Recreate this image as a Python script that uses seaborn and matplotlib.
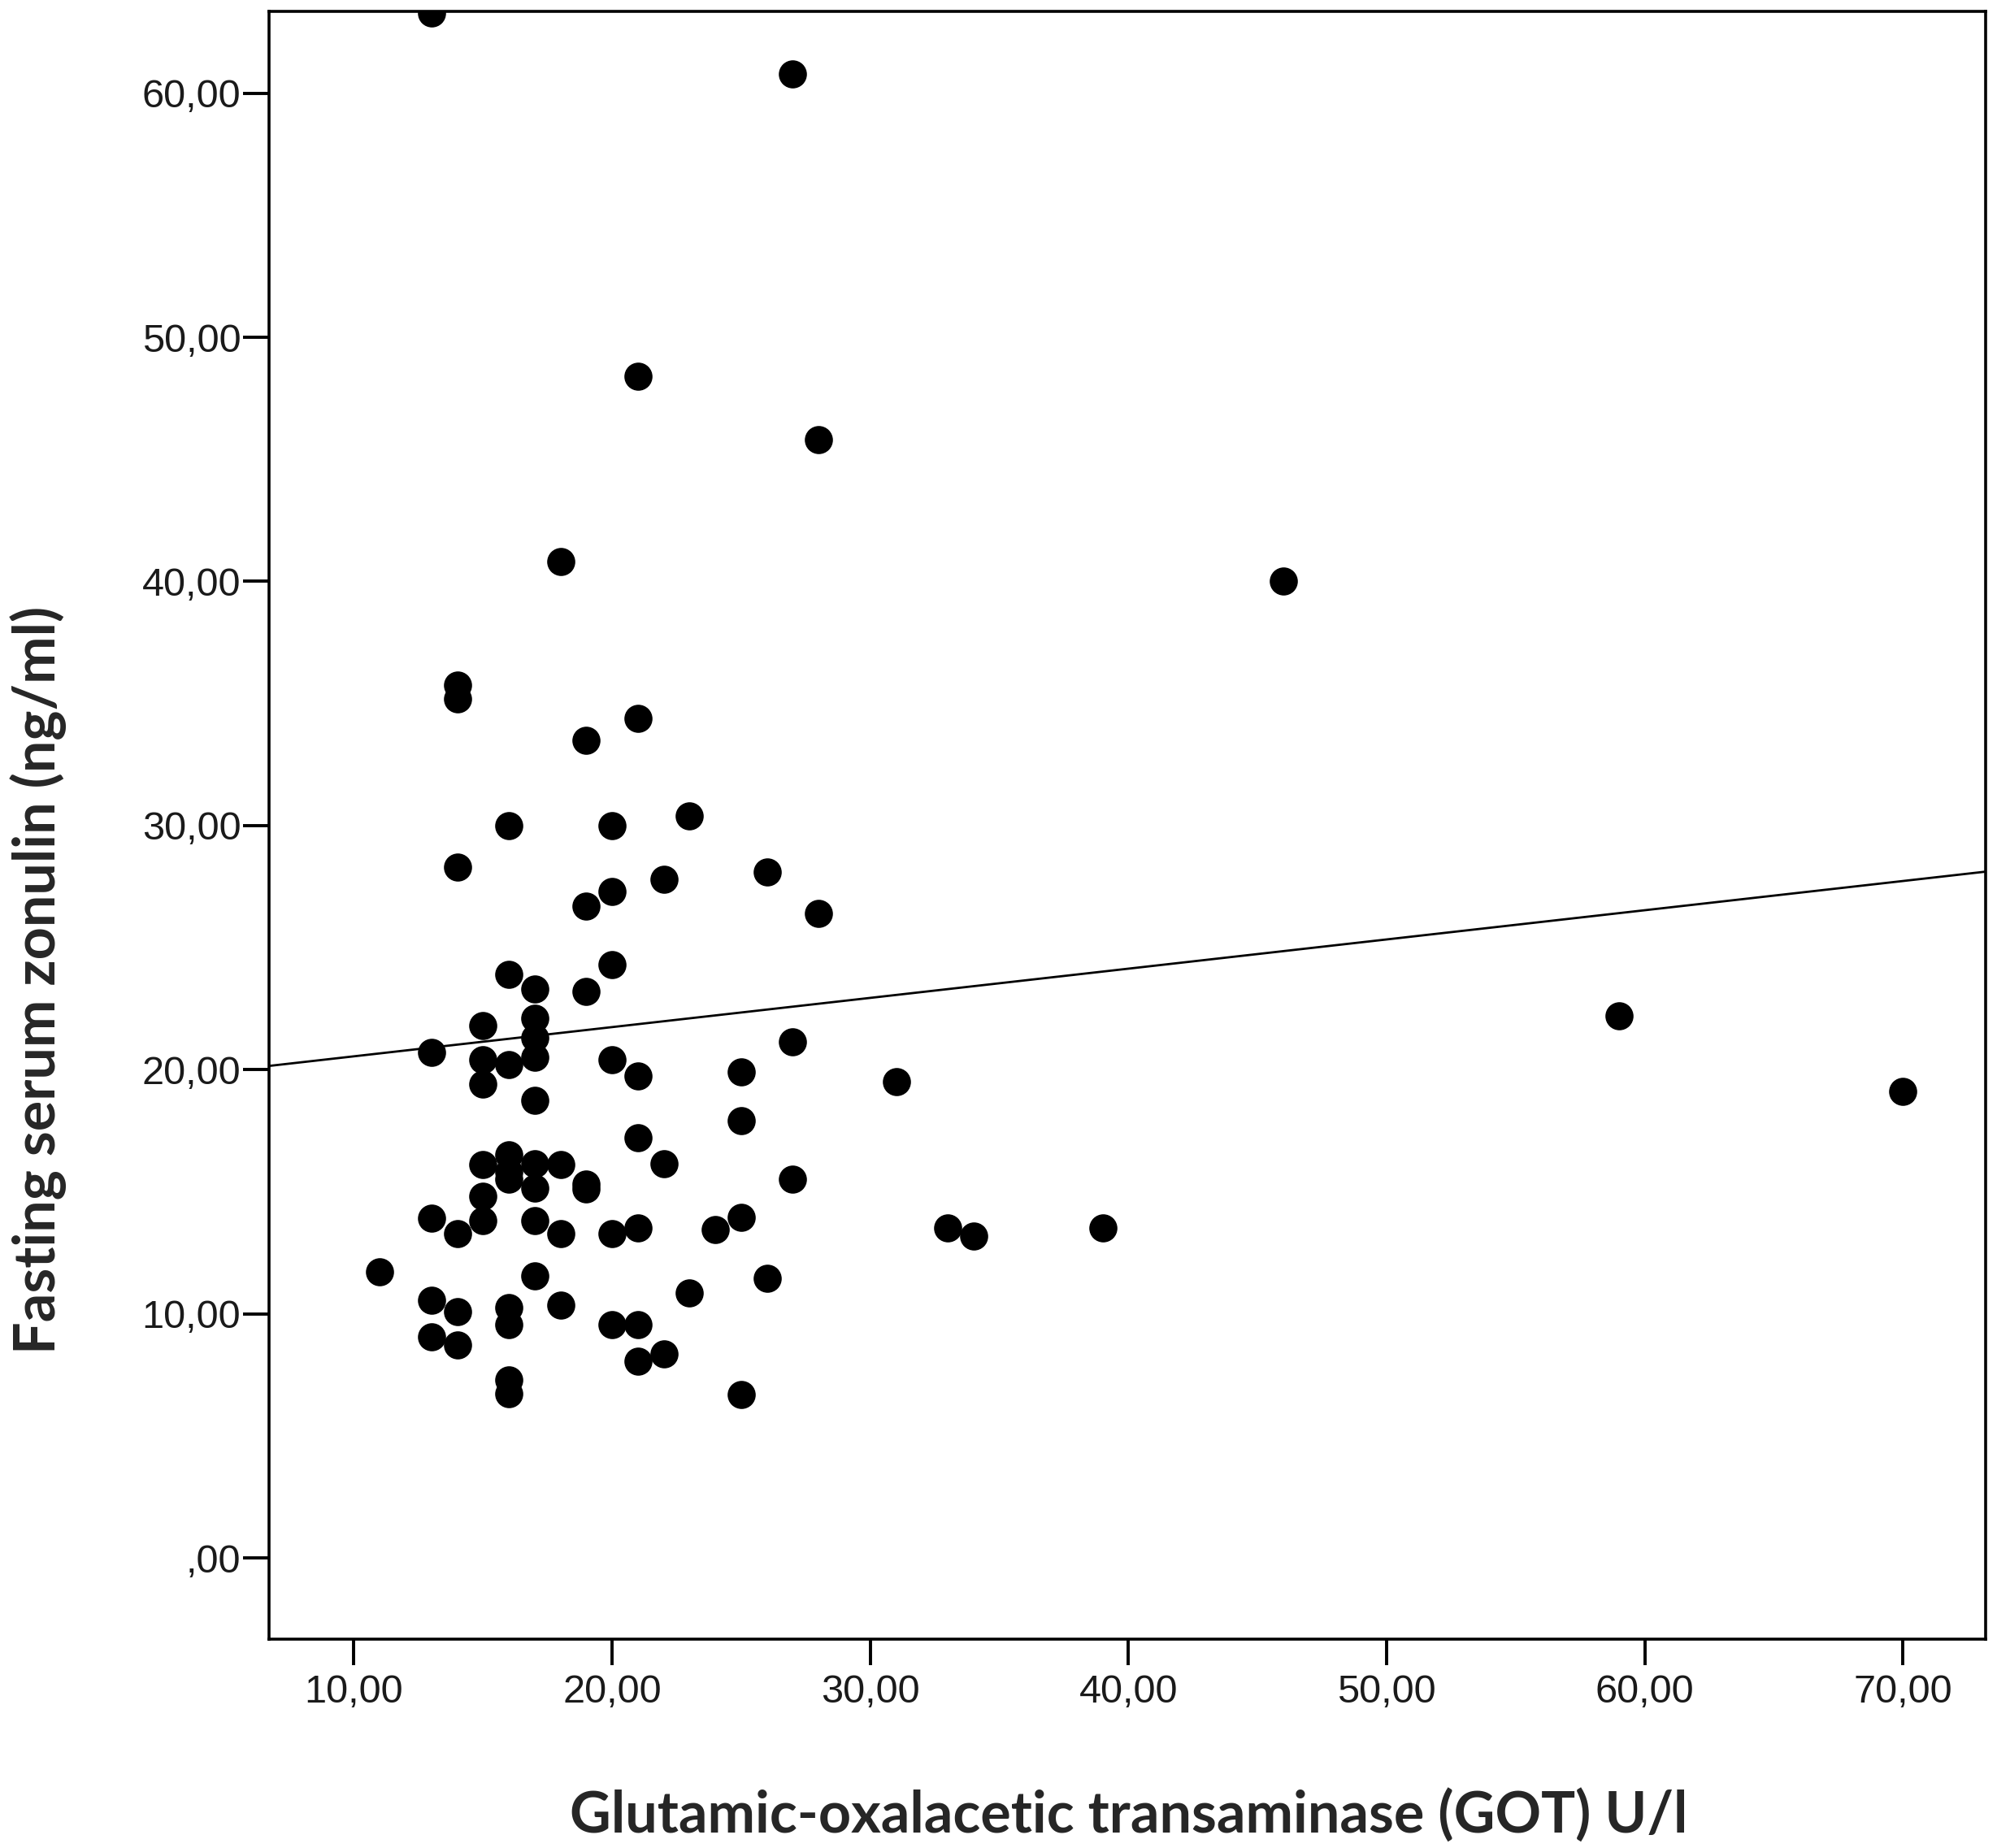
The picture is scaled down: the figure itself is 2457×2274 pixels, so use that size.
import numpy as np
import pandas as pd
import matplotlib
matplotlib.use("Agg")
import matplotlib.pyplot as plt
import seaborn as sns

# GOT (U/l) and fasting serum zonulin (ng/ml)
got = [13, 13, 13, 13, 13,
       27, 27, 27,
       21, 21, 21, 21, 21, 21, 21,
       28, 28,
       18, 18, 18, 18,
       46,
       14, 14, 14, 14, 14, 14,
       19, 19, 19, 19, 19,
       23, 23,
       16, 16, 16, 16, 16, 16, 16, 16, 16, 16,
       20, 20, 20, 20, 20, 20,
       26, 26,
       22, 22, 22,
       17, 17, 17, 17, 17, 17, 17, 17, 17,
       59,
       15, 15, 15, 15, 15, 15,
       25, 25, 25, 25,
       31, 70, 39, 33, 24, 34, 11]
zonulin = [63.3, 20.7, 13.9, 10.56, 9.06,
           60.8, 21.15, 15.5,
           48.4, 34.4, 19.75, 17.2, 13.5, 9.57, 8.07,
           45.8, 26.4,
           40.8, 16.1, 13.3, 10.34,
           40.0,
           35.74, 35.2, 28.3, 13.3, 10.1, 8.73,
           33.5, 26.7, 23.2, 15.3, 15.1,
           30.4, 10.84,
           30.0, 23.9, 20.2, 16.5, 15.8, 15.5, 10.24, 9.57, 7.29, 6.74,
           30.0, 27.3, 24.3, 20.4, 13.3, 9.57,
           28.1, 11.45,
           27.8, 16.15, 8.34,
           23.3, 22.1, 21.3, 20.5, 18.75, 16.15, 15.16, 13.8, 11.56,
           22.2,
           21.8, 20.4, 19.4, 16.1, 14.8, 13.8,
           19.9, 17.9, 13.95, 6.68,
           19.5, 19.1, 13.5, 13.5, 13.45, 13.2, 11.73]

fit_intercept = 19.35
fit_slope = 0.1197

x_ticks = [10, 20, 30, 40, 50, 60, 70]
x_tick_labels = ["10,00", "20,00", "30,00", "40,00", "50,00", "60,00", "70,00"]
y_ticks = [0, 10, 20, 30, 40, 50, 60]
y_tick_labels = [",00", "10,00", "20,00", "30,00", "40,00", "50,00", "60,00"]

df = pd.DataFrame({"got": got, "zonulin": zonulin})

sns.set_style("ticks")
plt.rcParams["font.family"] = ["Liberation Sans", "DejaVu Sans"]

fig = plt.figure(figsize=(24.57, 22.74), dpi=100)
ax = fig.add_axes([0.1347, 0.1130, 0.9943 - 0.1347, 0.9938 - 0.1130])

sns.scatterplot(data=df, x="got", y="zonulin", ax=ax, s=620, color="black",
                linewidth=0, alpha=1)

# fit line spans the whole plot area, like the SPSS output
ax.axline((0, fit_intercept), slope=fit_slope, color="black", linewidth=2.0)

ax.set_xlim(6.71, 73.2)
ax.set_ylim(-3.33, 63.35)

ax.set_xticks(x_ticks)
ax.set_xticklabels(x_tick_labels)
ax.set_yticks(y_ticks)
ax.set_yticklabels(y_tick_labels)

ax.tick_params(axis="both", direction="out", length=23, width=2.8, color="black",
               labelsize=35, labelcolor="#1a1a1a")
ax.tick_params(axis="x", pad=8)
ax.tick_params(axis="y", pad=2)

for sp in ax.spines.values():
    sp.set_visible(True)
    sp.set_color("black")
    sp.set_linewidth(2.6)

ax.set_xlabel("Glutamic-oxalacetic transaminase (GOT) U/l", fontsize=50.5,
              fontweight="bold", family=["Lato", "DejaVu Sans"], va="center")
ax.set_ylabel("Fasting serum zonulin (ng/ml)", fontsize=50.5,
              fontweight="bold", family=["Lato", "DejaVu Sans"], va="center")
ax.xaxis.set_label_coords(0.501, -0.108)
ax.yaxis.set_label_coords(-0.1345, 0.405)

fig.savefig("out.png", dpi=100, facecolor="white")
